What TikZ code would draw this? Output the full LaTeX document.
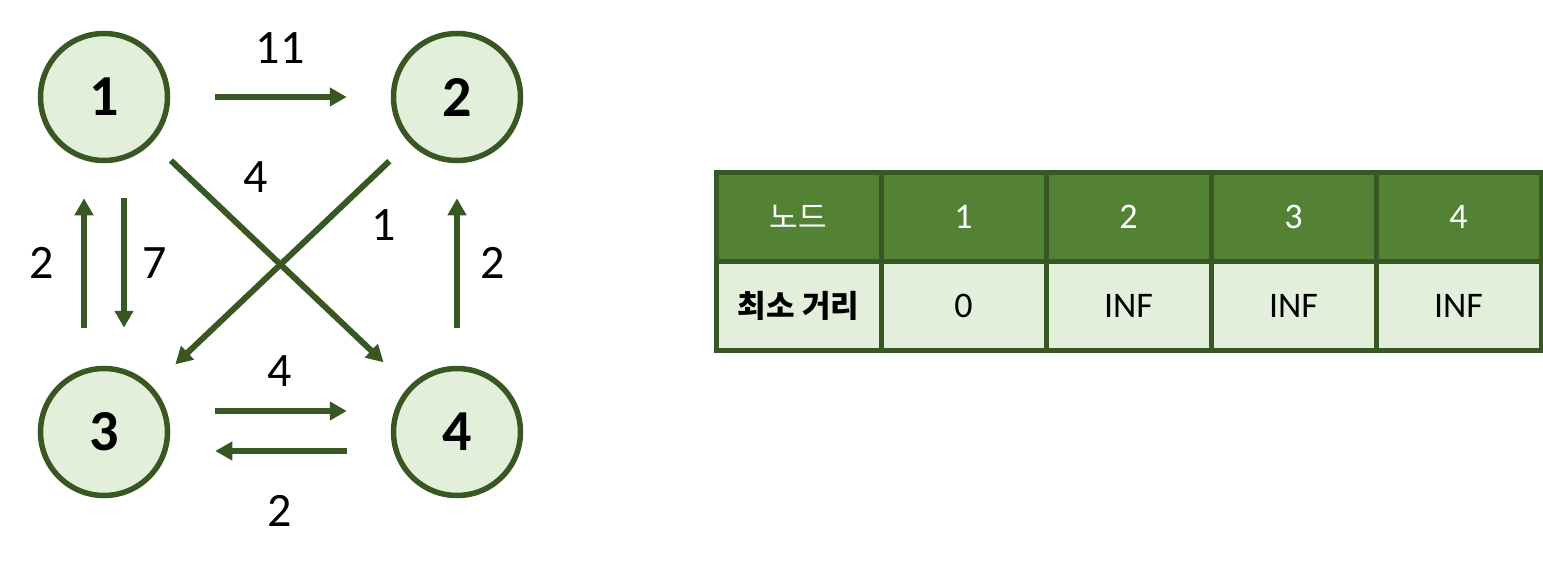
\documentclass[tikz,border=0pt]{standalone}
\usepackage{fontspec}
\setmainfont{Carlito}
\newfontfamily\kofont{Noto Sans CJK KR}
\usetikzlibrary{arrows.meta}
\definecolor{darkgreen}{HTML}{385723}
\definecolor{midgreen}{HTML}{548235}
\definecolor{palegreen}{HTML}{E2EFDA}

\begin{document}
\begin{tikzpicture}[x=1pt,y=-1pt]
	\tikzstyle{vertex} = [circle, minimum size=127pt, draw=darkgreen, fill=palegreen, line width=5.5pt, inner sep=0pt, font=\fontsize{58}{60}\selectfont\bfseries];
	\tikzstyle{wlabel} = [inner sep=0pt, font=\fontsize{48}{50}\selectfont];
	\tikzstyle{arc} = [draw=darkgreen, line width=6pt, -{Triangle[length=17pt,width=18pt]}];
	\tikzstyle{headcell} = [rectangle, draw=darkgreen, fill=midgreen, line width=5pt, minimum width=165pt, minimum height=89pt, text=white, font=\fontsize{36}{38}\selectfont];
	\tikzstyle{bodycell} = [rectangle, draw=darkgreen, fill=palegreen, line width=5pt, minimum width=165pt, minimum height=89pt, font=\fontsize{36}{38}\selectfont];
	
	\useasboundingbox (0,0) rectangle (1543,570);
	
	% graph
	\node[vertex] (n1) at (104,97) {1};
	\node[vertex] (n2) at (457,97) {2};
	\node[vertex] (n3) at (104,432) {3};
	\node[vertex] (n4) at (457,432) {4};
	
	\draw[arc, shorten <=45pt, shorten >=44pt] (n1) -- (n2);
	\draw[arc, shorten <=26pt, shorten >=35pt] (n1) -- (n4);
	\draw[arc, shorten <=27pt, shorten >=32pt] (n2) -- (n3);
	\draw[arc, shorten <=38pt, shorten >=35pt] ([xshift=-20pt]n3.north) -- ([xshift=-20pt]n1.south);
	\draw[arc, shorten <=35pt, shorten >=38pt] ([xshift=20pt]n1.south) -- ([xshift=20pt]n3.north);
	\draw[arc, shorten <=38pt, shorten >=35pt] (n4.north) -- (n2.south);
	\draw[arc, shorten <=45pt, shorten >=44pt] ([yshift=21pt]n3.east) -- ([yshift=21pt]n4.west);
	\draw[arc, shorten <=44pt, shorten >=45pt] ([yshift=-19pt]n4.west) -- ([yshift=-19pt]n3.east);
	
	\node[wlabel] (w12) at (280,48) {11};
	\node[wlabel] (w14) at (256,177) {4};
	\node[wlabel] (w23) at (384,225) {1};
	\node[wlabel] (w31) at (42,263) {2};
	\node[wlabel] (w13) at (155,263) {7};
	\node[wlabel] (w42) at (493,263) {2};
	\node[wlabel] (w34) at (280,371) {4};
	\node[wlabel] (w43) at (280,511) {2};
	
	% distance table
	\node[headcell] (h0) at (798.5,217) {\kofont\fontsize{31}{33}\selectfont 노드};
	\node[bodycell] (d0) at (798.5,306) {\kofont\bfseries\fontsize{31}{33}\selectfont 최소 거리};
	\foreach \v/\d [count=\i] in {1/0, 2/INF, 3/INF, 4/INF} {
		\node[headcell] (h\i) at (798.5+165*\i,217) {\v};
		\node[bodycell] (d\i) at (798.5+165*\i,306) {\d};
	}
\end{tikzpicture}
\end{document}
